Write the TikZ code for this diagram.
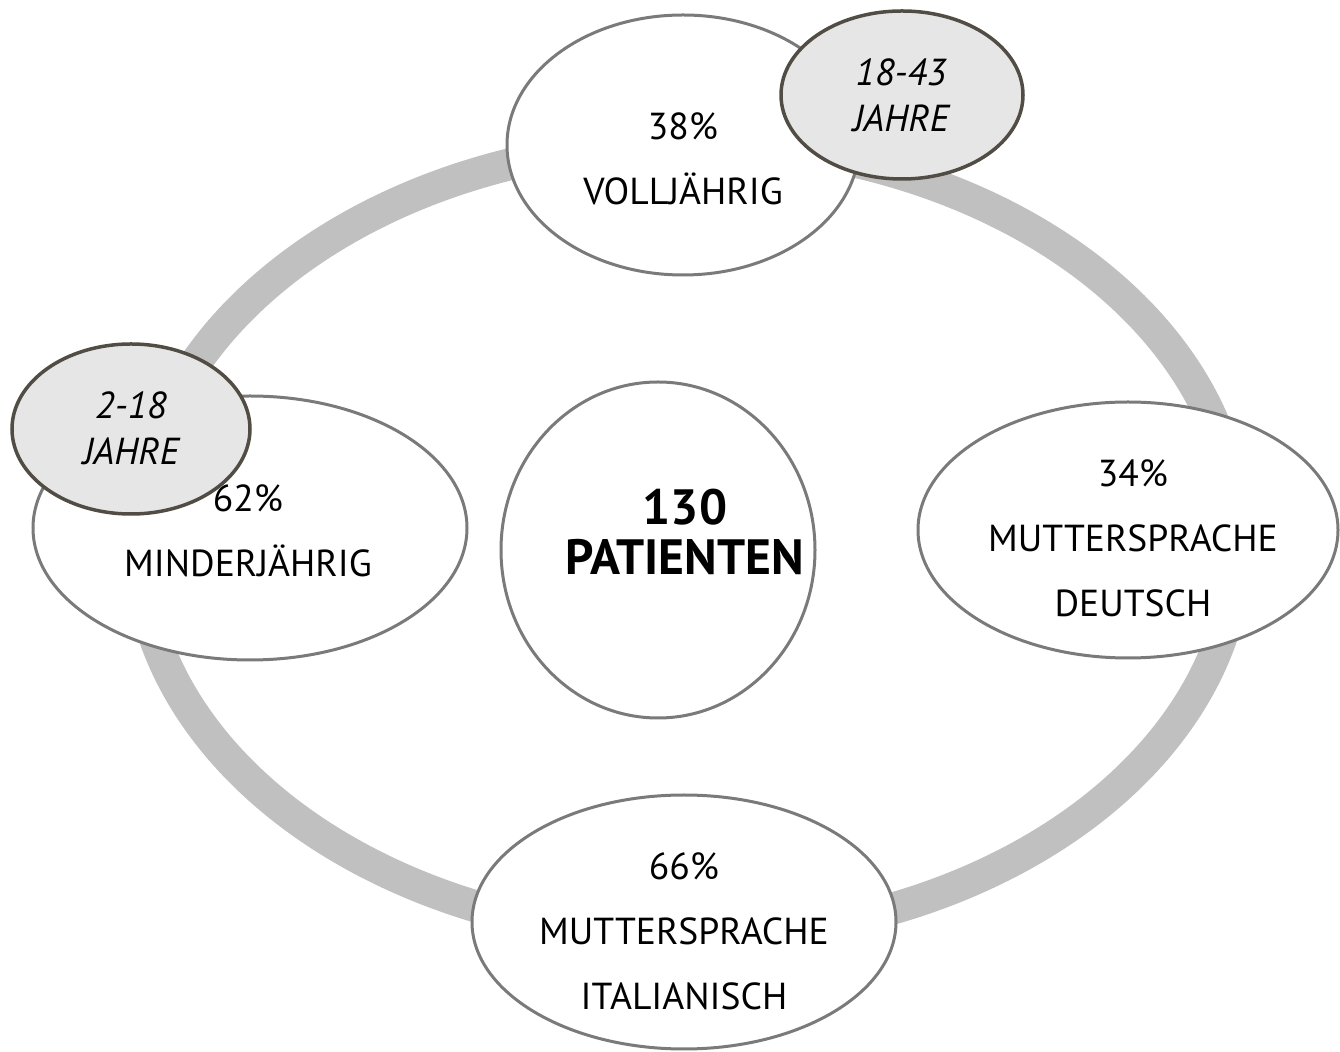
\documentclass[tikz,border=0pt]{standalone}
\usepackage{fontspec}
\setmainfont{PT Sans}
\usetikzlibrary{shapes.geometric}
\definecolor{ringgray}{HTML}{C0C0C0}
\definecolor{edgegray}{HTML}{7A7A7A}
\definecolor{tagfill}{HTML}{E6E6E6}
\definecolor{tagedge}{HTML}{514D44}
\begin{document}
\begin{tikzpicture}[x=0.5pt,y=-0.5pt,
  bubble/.style={ellipse, draw=edgegray, line width=1.5pt, fill=white, inner sep=0pt},
  tag/.style={ellipse, draw=tagedge, line width=1.75pt, fill=tagfill, inner sep=0pt},
  lbl/.style={align=center, anchor=base, inner sep=0pt, font=\fontsize{18.8}{32.5}\selectfont},
  taglbl/.style={align=center, anchor=base, inner sep=0pt, font=\fontsize{18.8}{23}\selectfont\itshape},
  boldlbl/.style={align=center, anchor=base, inner sep=0pt, font=\fontsize{24.8}{25}\selectfont\bfseries}]
\useasboundingbox (0,0) rectangle (1340,1052);
\draw[ringgray, line width=16pt] (688,540) ellipse [x radius=275pt, y radius=198.5pt];
\node[bubble, minimum width=176pt, minimum height=130pt] (voll) at (683,145) {};
\node[tag, minimum width=121pt, minimum height=84pt] (tagvoll) at (902,95) {};
\node[bubble, minimum width=217pt, minimum height=132pt] (minder) at (250,528) {};
\node[tag, minimum width=119pt, minimum height=85pt] (tagminder) at (131,429) {};
\node[bubble, minimum width=157pt, minimum height=168pt] (total) at (658,550) {};
\node[bubble, minimum width=210pt, minimum height=128pt] (deutsch) at (1128,530) {};
\node[bubble, minimum width=212pt, minimum height=127pt] (ital) at (684,922) {};
\node[lbl] (tvoll) at (683,205) {38\%\\VOLLJÄHRIG};
\node[taglbl] (ttagvoll) at (901,132) {18-43\\JAHRE};
\node[lbl] (tminder) at (248,577) {62\%\\MINDERJÄHRIG};
\node[taglbl] (ttagminder) at (131,465) {2-18\\JAHRE};
\node[boldlbl] (ttotal) at (685,575) {130\\PATIENTEN};
\node[lbl] (tdeutsch) at (1133,617) {34\%\\MUTTERSPRACHE\\DEUTSCH};
\node[lbl] (tital) at (684,1010) {66\%\\MUTTERSPRACHE\\ITALIANISCH};
\end{tikzpicture}
\end{document}
